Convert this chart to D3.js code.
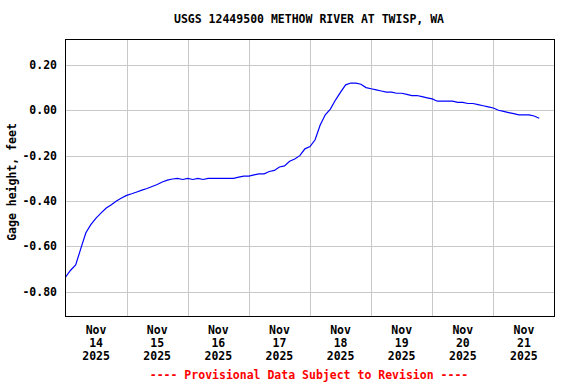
<!DOCTYPE html>
<html>
<head>
<meta charset="utf-8">
<script src="https://cdn.jsdelivr.net/npm/d3@7"></script>
<style>
  body { margin: 0; background: #fff; }
  text { font-family: "DejaVu Sans Mono", "Liberation Mono", monospace; font-weight: bold; font-size: 11.5px; }
</style>
</head>
<body id="body">
<script>
const title = "USGS 12449500 METHOW RIVER AT TWISP, WA";
const yLabel = "Gage height, feet";
const footnote = "---- Provisional Data Subject to Revision ----";

// readings every 2 hours starting Nov 14 2025 00:00
const startTime = new Date(2025, 10, 14, 0, 0);
const stepHours = 2;
const gageHeight = [
  -0.735, -0.705, -0.682, -0.61, -0.54, -0.503, -0.475, -0.452, -0.431, -0.416,
  -0.40, -0.387, -0.375, -0.368, -0.36, -0.352, -0.345, -0.336, -0.327, -0.316,
  -0.308, -0.303, -0.30, -0.305, -0.30, -0.305, -0.30, -0.305, -0.30, -0.30,
  -0.30, -0.30, -0.30, -0.30, -0.295, -0.29, -0.29, -0.285, -0.28, -0.28,
  -0.27, -0.265, -0.25, -0.245, -0.225, -0.215, -0.20, -0.17, -0.16, -0.13,
  -0.065, -0.02, 0.005, 0.045, 0.08, 0.112, 0.12, 0.12, 0.115, 0.10,
  0.095, 0.09, 0.085, 0.08, 0.08, 0.075, 0.075, 0.07, 0.065, 0.065,
  0.06, 0.055, 0.05, 0.04, 0.04, 0.04, 0.04, 0.035, 0.035, 0.03,
  0.03, 0.025, 0.02, 0.015, 0.01, 0.00, -0.005, -0.01, -0.015, -0.02,
  -0.02, -0.02, -0.025, -0.035
];
const yTicks = [0.20, 0.00, -0.20, -0.40, -0.60, -0.80];
const dayLabels = ["14", "15", "16", "17", "18", "19", "20", "21"];

const width = 576, height = 384;
const plot = { left: 65.5, right: 554.5, top: 39.5, bottom: 316.5 };

const svg = d3.select("body")
  .append("svg")
  .attr("width", width)
  .attr("height", height);

let x = d3.scaleTime()
  .domain([new Date(2025, 10, 14), new Date(2025, 10, 22)])
  .range([plot.left, plot.right]);

let y = d3.scaleLinear()
  .domain([-0.909, 0.312])
  .range([plot.bottom, plot.top]);

const data = gageHeight.map((v, i) => ({
  t: d3.timeHour.offset(startTime, i * stepHours),
  v: v
}));

// grid
svg.append("g")
  .selectAll("line")
  .data(yTicks)
  .join("line")
  .attr("x1", plot.left).attr("x2", plot.right)
  .attr("y1", d => Math.round(y(d)) + 0.5)
  .attr("y2", d => Math.round(y(d)) + 0.5)
  .attr("stroke", "#c8c8c8");

const midnights = d3.timeDay.range(new Date(2025, 10, 15), new Date(2025, 10, 22));
svg.append("g")
  .selectAll("line")
  .data(midnights)
  .join("line")
  .attr("x1", d => Math.round(x(d)) + 0.5)
  .attr("x2", d => Math.round(x(d)) + 0.5)
  .attr("y1", plot.top).attr("y2", plot.bottom)
  .attr("stroke", "#c8c8c8");

// the series
svg.append("path")
  .datum(data)
  .attr("d", d3.line().x(d => x(d.t)).y(d => y(d.v)))
  .attr("fill", "none")
  .attr("stroke", "#0000ff")
  .attr("stroke-width", 1.2);

// frame
svg.append("rect")
  .attr("x", plot.left).attr("y", plot.top)
  .attr("width", plot.right - plot.left)
  .attr("height", plot.bottom - plot.top)
  .attr("fill", "none")
  .attr("stroke", "#000");

// y tick labels
svg.append("g")
  .selectAll("text")
  .data(yTicks)
  .join("text")
  .attr("x", 57)
  .attr("y", d => y(d) + 4)
  .attr("text-anchor", "end")
  .text(d => d3.format(".2f")(d).replace("\u2212", "-"));

// x tick labels at noon of each day
const xLab = svg.append("g")
  .selectAll("text")
  .data(dayLabels)
  .join("text")
  .attr("text-anchor", "middle")
  .attr("transform", (d, i) => `translate(${x(new Date(2025, 10, 14 + i, 12))},0)`);
xLab.append("tspan").attr("x", 0).attr("y", 334).text("Nov");
xLab.append("tspan").attr("x", 0).attr("y", 347).text(d => d);
xLab.append("tspan").attr("x", 0).attr("y", 360).text("2025");

svg.append("text")
  .attr("x", 309).attr("y", 23)
  .attr("text-anchor", "middle")
  .text(title);

svg.append("text")
  .attr("transform", "translate(16,182) rotate(-90)")
  .attr("text-anchor", "middle")
  .text(yLabel);

svg.append("text")
  .attr("x", 309).attr("y", 379)
  .attr("text-anchor", "middle")
  .attr("fill", "#ff0000")
  .text(footnote);
</script>
</body>
</html>
